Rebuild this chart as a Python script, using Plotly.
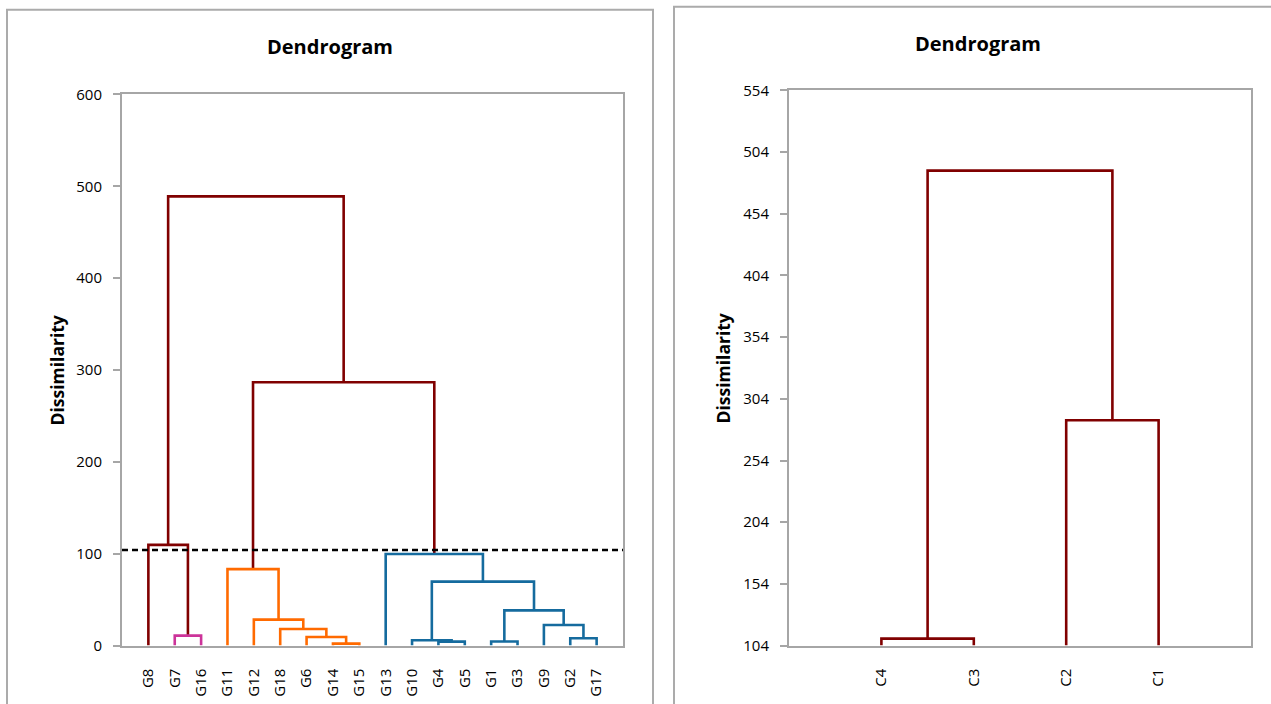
import plotly.graph_objects as go

# ---------------- data ----------------
# Left dendrogram: observations (leaf order as drawn)
left_leaves = ["G8", "G7", "G16", "G11", "G12", "G18", "G6", "G14", "G15",
               "G13", "G10", "G4", "G5", "G1", "G3", "G9", "G2", "G17"]
# merges: children are leaf indices (0..17) or earlier merge nodes (18 + merge position)
left_merge_a = [7, 11, 13, 10, 16, 6, 1, 5, 15, 4, 20, 21, 3, 9, 0, 30, 32]
left_merge_b = [8, 12, 14, 19, 17, 18, 2, 23, 22, 25, 26, 28, 27, 29, 24, 31, 33]
left_merge_h = [2.2, 4.3, 4.4, 5.8, 8.0, 9.4, 10.9, 18.1, 22.5, 28.3, 38.4,
                69.6, 83.3, 99.8, 109.7, 286.7, 489.0]
left_merge_group = ["B", "A", "A", "A", "A", "B", "C", "B", "A", "B", "A",
                    "A", "B", "A", "above", "above", "above"]
cut_level = 104

# Right dendrogram: classes
right_leaves = ["C4", "C3", "C2", "C1"]
right_merge_a = [0, 2, 4]
right_merge_b = [1, 3, 5]
right_merge_h = [109.7, 286.7, 489.0]
right_base = 104

left_yticks = [0, 100, 200, 300, 400, 500, 600]
right_yticks = [104, 154, 204, 254, 304, 354, 404, 454, 504, 554]

# ---------------- styles ----------------
W, H = 1271, 704
group_colors = {"above": "#800000", "A": "#156B9E", "B": "#FF6A00", "C": "#CC3399"}
GRID = "#A6A6A6"
BORDER = "#ABABAB"
FONT = "Open Sans"


def px_x(p):
    return p / W


def px_y(p):
    # vertical pixel position (from top) -> paper fraction
    return 1 - ((p - 9.35) / 0.9747) / H


def build_segments(n, a, b, h, groups, base):
    xs = [float(i + 1) for i in range(n)]
    ys = [float(base)] * n
    out = {}
    for ca, cb, hh, g in zip(a, b, h, groups):
        xa, ya, xb, yb = xs[ca], ys[ca], xs[cb], ys[cb]
        px, py = out.setdefault(g, ([], []))
        px += [xa, xa, xb, xb, None]
        py += [ya, hh, hh, yb, None]
        xs.append((xa + xb) / 2)
        ys.append(hh)
    return out


fig = go.Figure()

left_segs = build_segments(len(left_leaves), left_merge_a, left_merge_b, left_merge_h,
                           left_merge_group, 0)
for g in ["above", "B", "A", "C"]:
    px, py = left_segs[g]
    fig.add_trace(go.Scatter(x=px, y=py, mode="lines", xaxis="x", yaxis="y",
                             line=dict(color=group_colors[g], width=2.6),
                             hoverinfo="skip", showlegend=False))

fig.add_trace(go.Scatter(x=[0, len(left_leaves) + 1], y=[cut_level, cut_level], mode="lines",
                         xaxis="x", yaxis="y",
                         line=dict(color="black", width=2.4, dash="6px,4px"),
                         hoverinfo="skip", showlegend=False))

right_segs = build_segments(len(right_leaves), right_merge_a, right_merge_b, right_merge_h,
                            ["above"] * len(right_merge_h), right_base)
px, py = right_segs["above"]
fig.add_trace(go.Scatter(x=px, y=py, mode="lines", xaxis="x2", yaxis="y2",
                         line=dict(color=group_colors["above"], width=2.6),
                         hoverinfo="skip", showlegend=False))

axis_common = dict(showline=True, mirror=True, linecolor=GRID, linewidth=2,
                   showgrid=False, zeroline=False,
                   tickfont=dict(family=FONT, size=15, color="black"))

fig.update_layout(
    width=W, height=H,
    margin=dict(l=0, r=0, t=0, b=0),
    paper_bgcolor="white", plot_bgcolor="white",
    xaxis=dict(domain=[px_x(122), px_x(623)], range=[0, len(left_leaves) + 1],
               tickmode="array", tickvals=list(range(1, len(left_leaves) + 1)),
               ticktext=left_leaves, tickangle=-90, ticks="", ticklabelstandoff=15,
               anchor="y", **axis_common),
    yaxis=dict(domain=[px_y(646), px_y(93)], range=[0, 600],
               tickmode="array", tickvals=left_yticks,
               ticks="outside", ticklen=7, tickwidth=2, tickcolor=GRID,
               ticklabelstandoff=8, anchor="x", **axis_common),
    xaxis2=dict(domain=[px_x(789), px_x(1251)], range=[0, len(right_leaves) + 1],
                tickmode="array", tickvals=list(range(1, len(right_leaves) + 1)),
                ticktext=right_leaves, tickangle=-90, ticks="", ticklabelstandoff=15,
                anchor="y2", **axis_common),
    yaxis2=dict(domain=[px_y(646), px_y(89)], range=[104, 554],
                tickmode="array", tickvals=right_yticks,
                ticks="outside", ticklen=7, tickwidth=2, tickcolor=GRID,
                ticklabelstandoff=8, anchor="x2", **axis_common),
    shapes=[
        dict(type="rect", xref="paper", yref="paper", x0=px_x(7), x1=px_x(653),
             y0=-0.1, y1=px_y(8), line=dict(color=BORDER, width=2), layer="below"),
        dict(type="rect", xref="paper", yref="paper", x0=px_x(674), x1=1.1,
             y0=-0.1, y1=px_y(5), line=dict(color=BORDER, width=2), layer="below"),
    ],
    annotations=[
        dict(text="Dendrogram", xref="paper", yref="paper", x=px_x(330), y=px_y(45),
             showarrow=False, xanchor="center", yanchor="middle",
             font=dict(family=FONT, size=20, color="black", weight=700)),
        dict(text="Dendrogram", xref="paper", yref="paper", x=px_x(978), y=px_y(42),
             showarrow=False, xanchor="center", yanchor="middle",
             font=dict(family=FONT, size=20, color="black", weight=700)),
        dict(text="Dissimilarity", xref="paper", yref="paper", x=px_x(57), y=px_y(370),
             showarrow=False, xanchor="center", yanchor="middle", textangle=-90,
             font=dict(family=FONT, size=17.5, color="black", weight=700)),
        dict(text="Dissimilarity", xref="paper", yref="paper", x=px_x(723), y=px_y(368),
             showarrow=False, xanchor="center", yanchor="middle", textangle=-90,
             font=dict(family=FONT, size=17.5, color="black", weight=700)),
    ],
)

fig.write_html("out.html", config={"displayModeBar": False},
               post_script="document.body.style.margin='0px';document.body.style.overflow='hidden';")
